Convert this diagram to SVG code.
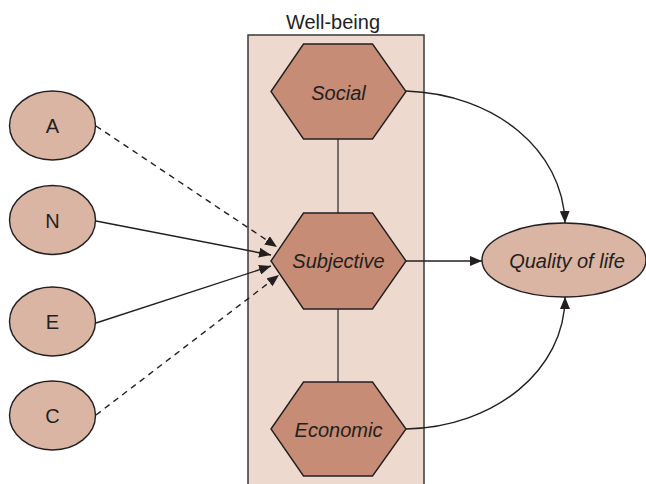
<svg xmlns="http://www.w3.org/2000/svg" width="646" height="484" viewBox="0 0 646 484">
  <style>
    .panel { fill: #edd9cd; stroke: #3a3a3a; stroke-width: 1.5; }
    .hex { fill: #c68c75; stroke: #231f20; stroke-width: 1.4; }
    .ell { fill: #dbb5a3; stroke: #231f20; stroke-width: 1.4; }
    .lbl { font-family: "Liberation Sans", Arial, sans-serif; font-size: 20px; fill: #231f20; text-anchor: middle; }
    .it { font-style: italic; }
    .edge { fill: none; stroke: #231f20; stroke-width: 1.4; }
    .dash { stroke-dasharray: 6 5; }
    .link { fill: none; stroke: #4a4a4a; stroke-width: 1.5; }
  </style>
  <defs>
    <marker id="arrow" viewBox="0 0 12 10" refX="12" refY="5" markerWidth="12" markerHeight="10" markerUnits="userSpaceOnUse" orient="auto">
      <path d="M0,0 L12,5 L0,10 Z" fill="#231f20"/>
    </marker>
  </defs>

  <rect width="646" height="484" fill="#ffffff"/>

  <!-- Well-being panel -->
  <g id="wellbeing">
    <rect class="panel" x="248" y="35" width="176" height="460"/>
    <text class="lbl" x="333" y="29">Well-being</text>
  </g>

  <!-- connectors -->
  <g id="connectors">
    <line class="link" x1="338" y1="139" x2="338" y2="213"/>
    <line class="link" x1="338" y1="309" x2="338" y2="382"/>
    <line class="edge dash" x1="96" y1="126" x2="277" y2="247" marker-end="url(#arrow)"/>
    <line class="edge" x1="96" y1="221" x2="271" y2="255" marker-end="url(#arrow)"/>
    <line class="edge" x1="96" y1="323" x2="271" y2="266" marker-end="url(#arrow)"/>
    <line class="edge dash" x1="96" y1="415" x2="279" y2="275" marker-end="url(#arrow)"/>
    <line class="edge" x1="406" y1="261" x2="482" y2="261" marker-end="url(#arrow)"/>
    <path class="edge" d="M406,91 C495,94 563,150 565,223" marker-end="url(#arrow)"/>
    <path class="edge" d="M406,429 C495,427 565,370 565,297" marker-end="url(#arrow)"/>
  </g>

  <!-- hexagons -->
  <g id="social">
    <polygon class="hex" points="271,91.5 303.5,44 372.5,44 406,91.5 372.5,139 303.5,139"/>
    <text class="lbl it" x="338.5" y="100">Social</text>
  </g>
  <g id="subjective">
    <polygon class="hex" points="271,261 303.5,213 372.5,213 406,261 372.5,309 303.5,309"/>
    <text class="lbl it" x="338.5" y="268">Subjective</text>
  </g>
  <g id="economic">
    <polygon class="hex" points="271,429 303.5,382 372.5,382 406,429 372.5,476 303.5,476"/>
    <text class="lbl it" x="338.5" y="437">Economic</text>
  </g>

  <!-- trait ellipses -->
  <g id="a">
    <ellipse class="ell" cx="52.5" cy="125.5" rx="43" ry="34.5"/>
    <text class="lbl" x="52.5" y="133">A</text>
  </g>
  <g id="n">
    <ellipse class="ell" cx="52.5" cy="220" rx="43" ry="34.5"/>
    <text class="lbl" x="52.5" y="228">N</text>
  </g>
  <g id="e">
    <ellipse class="ell" cx="52.5" cy="321.5" rx="43" ry="34.5"/>
    <text class="lbl" x="52.5" y="329">E</text>
  </g>
  <g id="c">
    <ellipse class="ell" cx="52.5" cy="415.5" rx="43" ry="34.5"/>
    <text class="lbl" x="52.5" y="423">C</text>
  </g>

  <!-- outcome -->
  <g id="quality">
    <ellipse class="ell" cx="564" cy="260" rx="82" ry="37"/>
    <text class="lbl it" x="567" y="268">Quality of life</text>
  </g>
</svg>
